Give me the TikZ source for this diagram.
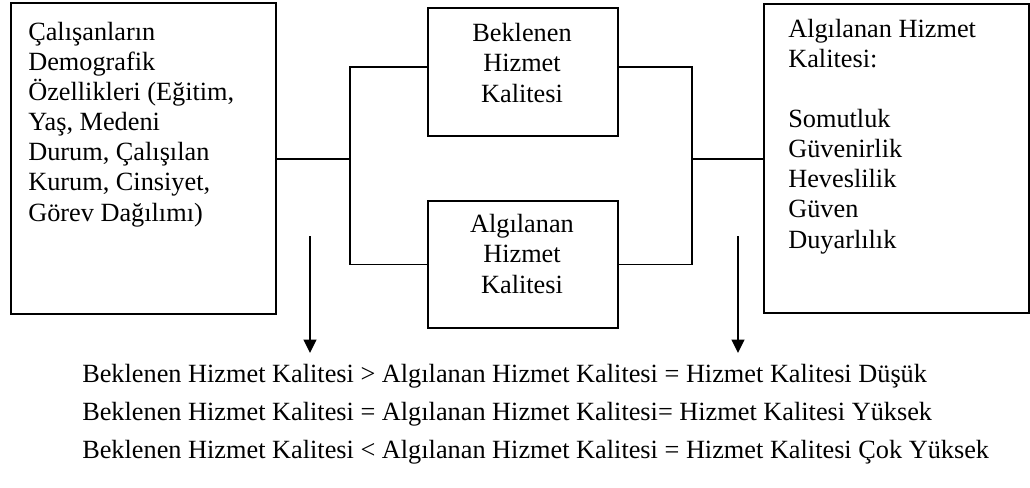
\documentclass[tikz,border=0pt]{standalone}
\usepackage{fontspec}
\setmainfont{Liberation Serif}
\usetikzlibrary{positioning,calc,arrows.meta}

\tikzset{
  kutu/.style={draw, line width=1.4pt, inner sep=0pt, anchor=north west},
  yazi/.style={font=\fontsize{18.7}{21.34}\selectfont, inner sep=0pt, anchor=base west, align=left},
  hat/.style={line width=1pt},
  ok/.style={line width=1.4pt, -{Triangle[length=9.5pt,width=9pt]}}
}

\begin{document}
\begin{tikzpicture}[x=0.025cm,y=-0.025cm]
    \useasboundingbox (0,0) rectangle (1030,487);

    % Boxes
    \node[kutu, minimum width=6.625cm, minimum height=7.775cm] (demo) at (10,2) {};
    \node[kutu, minimum width=4.75cm, minimum height=3.2cm] (bek) at (427,7) {};
    \node[kutu, minimum width=4.75cm, minimum height=3.175cm] (alg) at (427,200) {};
    \node[kutu, minimum width=6.625cm, minimum height=7.725cm] (boyut) at (763,3) {};

    % Box texts (base = last line)
    \node[yazi] (demoyazi) at (28,221) {Çalışanların\\Demografik\\Özellikleri (Eğitim,\\Yaş, Medeni\\Durum, Çalışılan\\Kurum, Cinsiyet,\\Görev Dağılımı)};
    \node[yazi, align=center, anchor=base] (bekyazi) at (522,102) {Beklenen\\Hizmet\\Kalitesi};
    \node[yazi, align=center, anchor=base] (algyazi) at (522,293) {Algılanan\\Hizmet\\Kalitesi};
    \node[yazi] (boyutyazi) at (788,248) {Algılanan Hizmet\\Kalitesi:\\[21.34pt]Somutluk\\Güvenirlik\\Heveslilik\\Güven\\Duyarlılık};

    % Connectors
    \coordinate (sol) at (350,159);
    \coordinate (sag) at (692,159);
    \draw[hat] (demo.east |- sol) -- (sol);
    \draw[hat] ($(bek.west)+(0,-5)$) -| (sol) |- (alg.west);
    \draw[hat] ($(bek.east)+(0,-5)$) -| (sag) |- (alg.east);
    \draw[hat] (sag) -- (sag -| boyut.west);

    % Results
    \node[yazi] (s1) at (82,382) {Beklenen Hizmet Kalitesi > Algılanan Hizmet Kalitesi = Hizmet Kalitesi Düşük};
    \node[yazi, below=0.95cm of s1.base west, anchor=base west] (s2) {Beklenen Hizmet Kalitesi = Algılanan Hizmet Kalitesi= Hizmet Kalitesi Yüksek};
    \node[yazi, below=0.95cm of s2.base west, anchor=base west] (s3) {Beklenen Hizmet Kalitesi < Algılanan Hizmet Kalitesi = Hizmet Kalitesi Çok Yüksek};

    % Arrows
    \coordinate (ok1) at (310,236);
    \coordinate (ok2) at (738,236);
    \draw[ok] (ok1) -- (310,353) coordinate (ok1uc);
    \draw[ok] (ok2) -- (738,353) coordinate (ok2uc);
\end{tikzpicture}
\end{document}
